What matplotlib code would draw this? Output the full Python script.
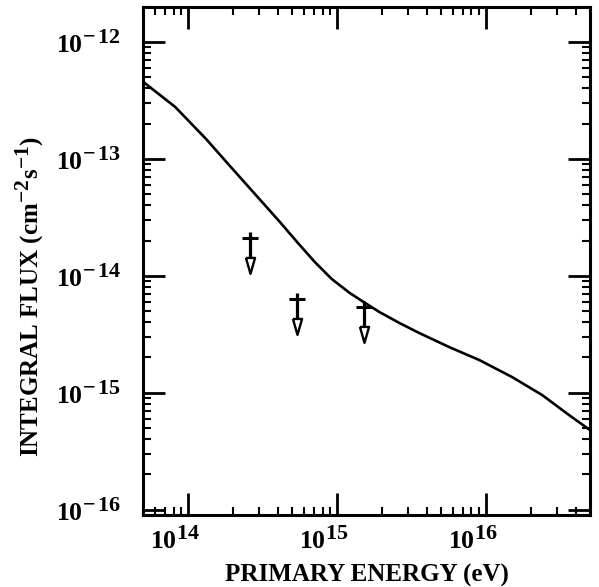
import matplotlib
matplotlib.use("Agg")
import matplotlib.pyplot as plt
import matplotlib.ticker as mticker
import matplotlib._mathtext as mathtext_internal
from matplotlib.transforms import ScaledTranslation
import numpy as np

# curve
energy = [5.0e13, 8.19e13, 1.32e14, 1.91e14, 2.81e14, 4.13e14, 5.46e14, 7.10e14,
          9.23e14, 1.22e15, 1.51e15, 1.93e15, 2.63e15, 3.58e15, 5.69e15, 9.04e15,
          1.50e16, 2.39e16, 3.62e16, 5.0e16]
flux = [4.55e-13, 2.78e-13, 1.48e-13, 8.69e-14, 5.01e-14, 2.89e-14, 1.91e-14, 1.31e-14,
        9.37e-15, 7.11e-15, 5.96e-15, 4.89e-15, 3.94e-15, 3.23e-15, 2.45e-15, 1.90e-15,
        1.36e-15, 9.53e-16, 6.43e-16, 4.79e-16]

# upper limits
lim_energy = [2.6e14, 5.43e14, 1.51e15]
lim_flux = [2.1e-14, 6.3e-15, 5.4e-15]

xticks = [1e14, 1e15, 1e16]
yticks = [1e-16, 1e-15, 1e-14, 1e-13, 1e-12]

# the old plot uses big exponents
mathtext_internal.SHRINK_FACTOR = 0.86

plt.rcParams['font.family'] = 'Liberation Serif'
plt.rcParams['font.weight'] = 'bold'
plt.rcParams['mathtext.fontset'] = 'custom'
plt.rcParams['mathtext.rm'] = 'Liberation Serif:bold'
plt.rcParams['mathtext.it'] = 'Liberation Serif:bold'
plt.rcParams['mathtext.bf'] = 'Liberation Serif:bold'
plt.rcParams['mathtext.default'] = 'rm'

fig = plt.figure(figsize=(5.99, 5.87), dpi=100)
ax = fig.add_axes([0.239, 0.1227, 0.746, 0.866])

ax.plot(energy, flux, color='black', lw=1.9)

# upper limit symbols: dagger-like shaft with open arrow head
head = [(-1, 1), (1, 1), (0, -2.5), (-1, 1)]
for e, f in zip(lim_energy, lim_flux):
    ax.plot([e, e], [f * 10**0.05, f * 10**-0.17], color='black', lw=2.3,
            solid_capstyle='butt')
    ax.plot([e], [f], marker='_', ms=11, mew=2.2, color='black')
    ax.plot([e], [f * 10**-0.202], marker=head, ms=16.4, mew=1.7,
            mfc='white', mec='black', ls='none')

ax.set_xscale('log')
ax.set_yscale('log')
ax.set_xlim(5.0e13, 5.0e16)
ax.set_ylim(9.0e-17, 2.0e-12)

ax.xaxis.set_major_locator(mticker.FixedLocator(xticks))
ax.yaxis.set_major_locator(mticker.FixedLocator(yticks))
ax.xaxis.set_minor_locator(mticker.LogLocator(base=10, subs=np.arange(2, 10), numticks=20))
ax.yaxis.set_minor_locator(mticker.LogLocator(base=10, subs=np.arange(2, 10), numticks=20))
fmt = mticker.FuncFormatter(lambda v, p: r'$10^{-\,%d}$' % abs(round(np.log10(v)))
                            if v < 1 else r'$10^{%d}$' % round(np.log10(v)))
ax.xaxis.set_major_formatter(fmt)
ax.yaxis.set_major_formatter(fmt)
ax.xaxis.set_minor_formatter(mticker.NullFormatter())
ax.yaxis.set_minor_formatter(mticker.NullFormatter())

ax.tick_params(which='both', direction='in', top=True, right=True, labelsize=18.5)
ax.tick_params(which='major', length=16, width=2.0)
ax.tick_params(which='minor', length=6, width=1.5)
ax.tick_params(axis='x', which='major', pad=9)
ax.tick_params(axis='y', which='major', pad=16)
for s in ax.spines.values():
    s.set_linewidth(2.2)

# x tick labels sit a bit left of their ticks in the original
for t in ax.xaxis.get_major_ticks():
    t.label1.set_transform(t.label1.get_transform() +
                           ScaledTranslation(-0.13, 0, fig.dpi_scale_trans))

ax.set_xlabel('PRIMARY ENERGY (eV)', fontsize=18, fontweight='bold', labelpad=7)
ax.set_ylabel(r'INTEGRAL FLUX (cm$^{-2}$s$^{-1}$)', fontsize=18, fontweight='bold')
ax.yaxis.set_label_coords(-0.22, 0.43)

fig.savefig('out.png', dpi=100)
